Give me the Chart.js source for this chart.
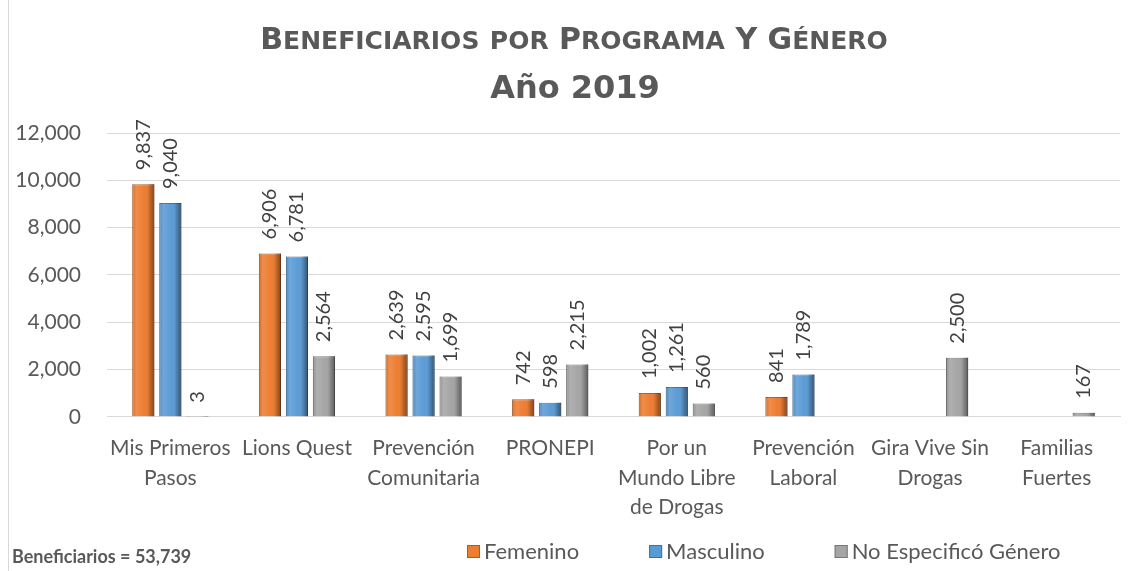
<!DOCTYPE html>
<html>
<head>
<meta charset="utf-8">
<script src="https://cdn.jsdelivr.net/npm/chart.js@4.4.0/dist/chart.umd.min.js"></script>
<style>
body { margin: 0; background: #fff; }
</style>
</head>
<body>
<canvas id="grafica" width="1134" height="571"></canvas>
<script>
const TITULO = "Beneficiarios por Programa Y Género"
const SUBTITULO = "Año 2019"
const PROGRAMAS = [
    ["Mis Primeros", "Pasos"],
    "Lions Quest",
    ["Prevención", "Comunitaria"],
    "PRONEPI",
    ["Por un", "Mundo Libre", "de Drogas"],
    ["Prevención", "Laboral"],
    ["Gira Vive Sin", "Drogas"],
    ["Familias", "Fuertes"]
]
const FEMENINO = [9837, 6906, 2639, 742, 1002, 841, null, null]
const MASCULINO = [9040, 6781, 2595, 598, 1261, 1789, null, null]
const NO_ESPECIFICO = [3, 2564, 1699, 2215, 560, null, 2500, 167]
const Y_TICKS = [0, 2000, 4000, 6000, 8000, 10000, 12000]
const TOTAL = "Beneficiarios = 53,739"

const FUENTE = "Lato, 'Open Sans', sans-serif"
const FUENTE_TITULO = "'DejaVu Sans', sans-serif"
const GRIS = '#595959'

// versalitas: mayusculas grandes, minusculas como mayusculas chicas
function versalitas(ctx, texto, cx, base, grande, chica) {
    let trozos = []
    for (const c of texto) {
        let mayus = c !== c.toLowerCase() || c === ' '
        let f = "bold " + (mayus ? grande : chica) + "px " + FUENTE_TITULO
        let ultimo = trozos[trozos.length - 1]
        if (ultimo && ultimo.f === f) ultimo.t += c.toUpperCase()
        else trozos.push({ f: f, t: c.toUpperCase() })
    }
    let total = 0
    trozos.forEach(tr => { ctx.font = tr.f; tr.w = ctx.measureText(tr.t).width; total += tr.w })
    let x = cx - total / 2
    trozos.forEach(tr => { ctx.font = tr.f; ctx.fillText(tr.t, x, base); x += tr.w })
}

// etiquetas giradas, bisel de las barras, titulos, leyenda y total abajo
const extras = {
    id: 'extras',
    afterDatasetsDraw(chart) {
        const ctx = chart.ctx
        chart.data.datasets.forEach((ds, i) => {
            const meta = chart.getDatasetMeta(i)
            meta.data.forEach((bar, j) => {
                const v = ds.data[j]
                if (v === null) return
                let izq = bar.x - bar.width / 2
                let der = bar.x + bar.width / 2
                let alto = bar.base - bar.y
                let g = ctx.createLinearGradient(izq, 0, der, 0)
                g.addColorStop(0, 'rgba(0,0,0,0.10)')
                g.addColorStop(0.18, 'rgba(255,255,255,0.12)')
                g.addColorStop(0.55, 'rgba(255,255,255,0)')
                g.addColorStop(0.78, 'rgba(0,0,0,0.15)')
                g.addColorStop(1, 'rgba(0,0,0,0.45)')
                ctx.save()
                ctx.fillStyle = g
                ctx.fillRect(izq, bar.y, bar.width, alto)
                ctx.restore()

                ctx.save()
                ctx.translate(bar.x, bar.y - 14)
                ctx.rotate(-Math.PI / 2)
                ctx.font = "20px " + FUENTE
                ctx.fillStyle = '#404040'
                ctx.textAlign = 'left'
                ctx.textBaseline = 'middle'
                ctx.fillText(v.toLocaleString('en-US'), 0, 0)
                ctx.restore()
            })
        })
    },
    afterDraw(chart) {
        const ctx = chart.ctx
        ctx.save()
        ctx.strokeStyle = '#d9d9d9'
        ctx.lineWidth = 1
        ctx.beginPath()
        ctx.moveTo(8.5, 0)
        ctx.lineTo(8.5, chart.height)
        ctx.stroke()

        ctx.fillStyle = GRIS
        ctx.textAlign = 'left'
        ctx.textBaseline = 'alphabetic'
        versalitas(ctx, TITULO, 574, 49, 30, 25)
        ctx.font = "bold 32px " + FUENTE_TITULO
        ctx.textAlign = 'center'
        ctx.fillText(SUBTITULO, 575, 98)

        ctx.font = "bold 18px " + FUENTE
        ctx.textBaseline = 'middle'
        ctx.textAlign = 'left'
        ctx.fillText(TOTAL, 12, 557)

        // leyenda
        ctx.font = "22px " + FUENTE
        let x = 467
        chart.data.datasets.forEach(ds => {
            ctx.fillStyle = ds.backgroundColor
            ctx.fillRect(x, 545, 13, 13)
            ctx.strokeStyle = ds.borderColor
            ctx.strokeRect(x + 0.5, 545.5, 12, 12)
            ctx.fillStyle = GRIS
            ctx.fillText(ds.label, x + 17, 552)
            x += 17 + ctx.measureText(ds.label).width + 70
        })
        ctx.restore()
    }
}

var ctx = document.getElementById('grafica').getContext('2d');
var grafica = new Chart(ctx, {
    type: 'bar',
    data: {
        labels: PROGRAMAS,
        datasets: [{
            label: 'Femenino',
            data: FEMENINO,
            backgroundColor: '#ED7D31',
            borderColor: '#AE5A21',
            borderWidth: 1
        }, {
            label: 'Masculino',
            data: MASCULINO,
            backgroundColor: '#5B9BD5',
            borderColor: '#41719C',
            borderWidth: 1
        }, {
            label: 'No Especificó Género',
            data: NO_ESPECIFICO,
            backgroundColor: '#A5A5A5',
            borderColor: '#787878',
            borderWidth: 1
        }]
    },
    options: {
        responsive: false,
        animation: false,
        categoryPercentage: 0.64,
        barPercentage: 0.82,
        layout: { padding: { top: 133, left: 12, right: 14, bottom: 40 } },
        plugins: {
            legend: { display: false },
            tooltip: { enabled: false }
        },
        scales: {
            x: {
                grid: { display: false },
                border: { color: '#d9d9d9' },
                ticks: {
                    color: GRIS,
                    font: { family: FUENTE, size: 21, lineHeight: 1.4 },
                    maxRotation: 0,
                    autoSkip: false,
                    padding: 9
                }
            },
            y: {
                min: 0,
                max: 12000,
                afterBuildTicks: (axis) => { axis.ticks = Y_TICKS.map(v => ({ value: v })) },
                afterFit: (axis) => { axis.width = 95 },
                grid: { color: '#d9d9d9', drawTicks: false },
                border: { display: false },
                ticks: {
                    color: GRIS,
                    font: { family: FUENTE, size: 21 },
                    padding: 26,
                    callback: (v) => v.toLocaleString('en-US')
                }
            }
        }
    },
    plugins: [extras]
})
</script>
</body>
</html>
